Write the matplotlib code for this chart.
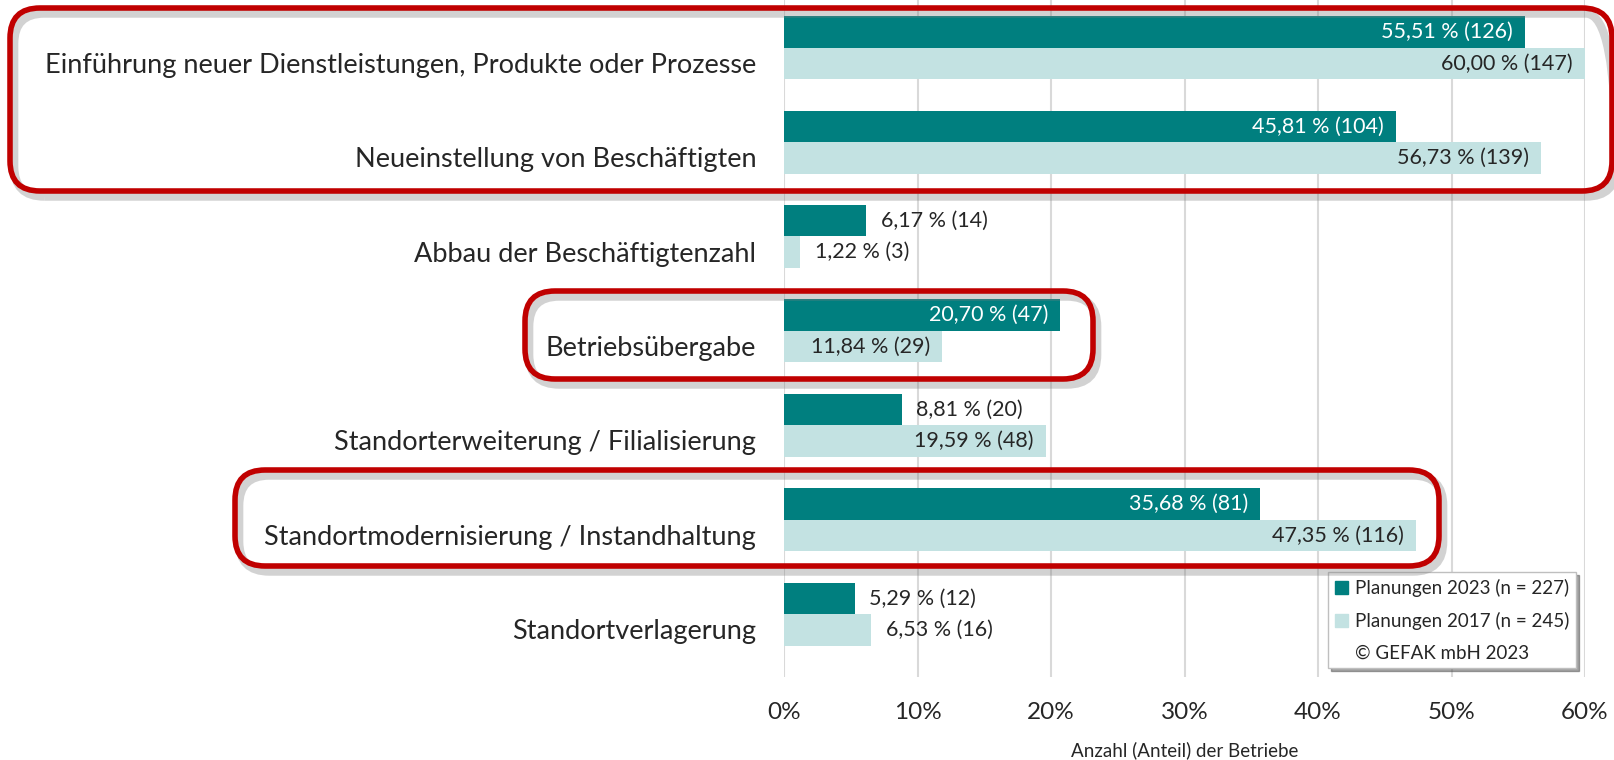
import matplotlib
matplotlib.use("Agg")
import matplotlib.pyplot as plt
from matplotlib.patches import FancyBboxPatch, Patch
import matplotlib.patheffects as pe

plt.rcParams['font.family'] = ['Lato', 'DejaVu Sans']

categories = ["Einführung neuer Dienstleistungen, Produkte oder Prozesse",
              "Neueinstellung von Beschäftigten",
              "Abbau der Beschäftigtenzahl",
              "Betriebsübergabe",
              "Standorterweiterung / Filialisierung",
              "Standortmodernisierung / Instandhaltung",
              "Standortverlagerung"]
pct_2023 = [55.51, 45.81, 6.17, 20.70, 8.81, 35.68, 5.29]
cnt_2023 = [126, 104, 14, 47, 20, 81, 12]
pct_2017 = [60.00, 56.73, 1.22, 11.84, 19.59, 47.35, 6.53]
cnt_2017 = [147, 139, 3, 29, 48, 116, 16]
xticks = [0, 10, 20, 30, 40, 50, 60]

dark = '#007F7F'
light = '#C3E2E2'
text_col = '#262626'
red = '#C00000'

W, H = 1614, 760
fig = plt.figure(figsize=(W / 100, H / 100), dpi=100)
ax = fig.add_axes([784 / W, 1 - 677 / H, 801 / W, 677 / H])

bh = 0.333
y = list(range(len(categories)))
ax.barh([i - bh / 2 for i in y], pct_2023, height=bh, color=dark, zorder=2)
ax.barh([i + bh / 2 for i in y], pct_2017, height=bh, color=light, zorder=2)


def label(val, cnt, yy, inside_col):
    s = f"{val:.2f}".replace('.', ',') + f" % ({cnt})"
    if val > 10:
        ax.text(val - 0.9, yy, s, ha='right', va='center', color=inside_col, fontsize=15.5, zorder=3)
    else:
        ax.text(val + 1.1, yy, s, ha='left', va='center', color=text_col, fontsize=15.5, zorder=3)


for i in y:
    label(pct_2023[i], cnt_2023[i], i - bh / 2, 'white')
    label(pct_2017[i], cnt_2017[i], i + bh / 2, text_col)

ax.set_xlim(0, 60)
ax.set_ylim(6.666, -0.505)
ax.set_xticks(xticks)
ax.set_xticklabels([f"{t}%" for t in xticks], fontsize=17.5, color=text_col)
ax.set_yticks([i + 0.16 for i in y])
ax.set_yticklabels(categories, fontsize=19.5, color=text_col)
ax.tick_params(axis='x', length=0, pad=18)
ax.tick_params(axis='y', length=0, pad=20)
ax.grid(axis='x', color='#D9D9D9', linewidth=1.5, zorder=0)
ax.set_axisbelow(True)
for sp in ax.spines.values():
    sp.set_visible(False)
ax.set_xlabel("Anzahl (Anteil) der Betriebe", fontsize=13.5, color=text_col, labelpad=13)

# legend
handles = [Patch(color=dark), Patch(color=light), Patch(color='none')]
labels = ["Planungen 2023 (n = 227)", "Planungen 2017 (n = 245)", "© GEFAK mbH 2023"]
leg = fig.legend(handles, labels, loc='upper left',
                 bbox_to_anchor=(1328 / W, 1 - 572 / H), borderaxespad=0, fontsize=13.5,
                 handlelength=0.7, handleheight=0.7, handletextpad=0.4,
                 labelspacing=0.8, borderpad=0.35, fancybox=False, shadow=True,
                 framealpha=1, edgecolor='#BFBFBF', labelcolor=text_col)
leg.set_zorder(5)

# red highlight boxes (pixel coordinates from top-left)
boxes = [(10, 8, 1612, 191), (525, 291, 1093, 379), (235, 470, 1439, 566)]
for x0, y0, x1, y1 in boxes:
    p = FancyBboxPatch((x0 / 100, (H - y1) / 100), (x1 - x0) / 100, (y1 - y0) / 100,
                       boxstyle="round,pad=0,rounding_size=0.3",
                       transform=fig.dpi_scale_trans, facecolor='none',
                       edgecolor=red, linewidth=4, zorder=6,
                       path_effects=[pe.SimpleLineShadow(offset=(3, -4), shadow_color='#808080',
                                                         alpha=0.35, linewidth=6),
                                     pe.Normal()])
    fig.add_artist(p)

fig.savefig("out.png", dpi=100)
